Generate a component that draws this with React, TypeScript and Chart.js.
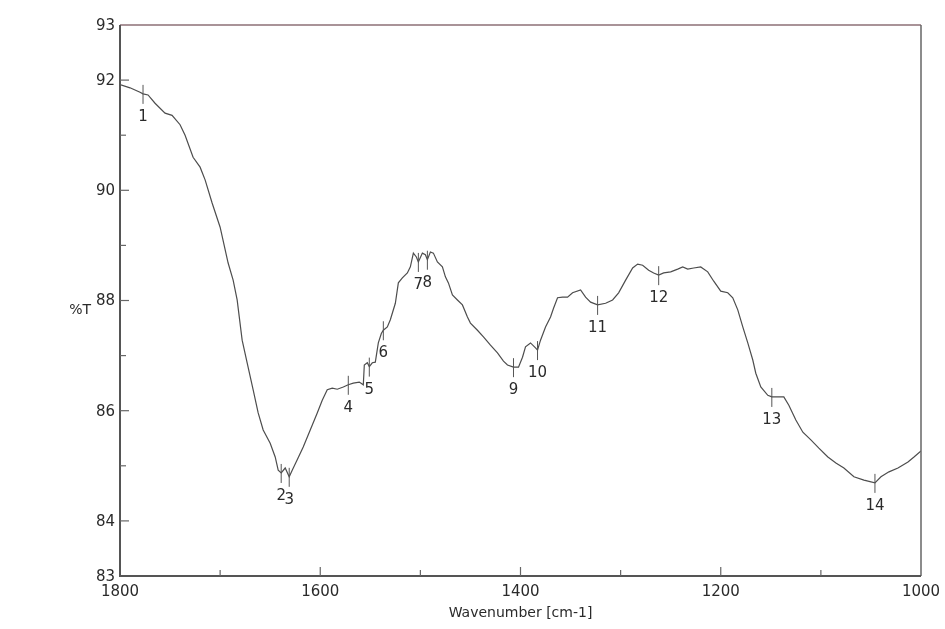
import React, { useEffect, useRef } from "react";
import { Chart, registerables } from "chart.js";

Chart.register(...registerables);

const wavenumbers = [
  1800, 1790, 1780, 1777, 1772, 1765, 1755, 1748, 1740, 1735, 1727, 1720, 1715, 1708, 1700,
  1692, 1687, 1683, 1678, 1673, 1667, 1662, 1657, 1650, 1645, 1642, 1639, 1635, 1631, 1628,
  1623, 1617, 1610, 1603, 1598, 1593, 1588, 1583, 1577, 1572, 1567, 1561, 1557, 1556, 1553,
  1551, 1548, 1545, 1542, 1539, 1537, 1533, 1530, 1525, 1522, 1518, 1513, 1510, 1507, 1504,
  1502, 1498, 1495, 1493, 1490, 1487, 1483, 1478, 1475, 1472, 1468, 1463, 1458, 1453, 1450,
  1443, 1437, 1430, 1423, 1417, 1413, 1407, 1402, 1398, 1395, 1390, 1385, 1383, 1380, 1375,
  1370, 1367, 1363, 1358, 1353, 1348, 1340, 1335, 1330, 1323, 1315, 1308, 1302, 1295, 1288,
  1283, 1278, 1272, 1267, 1262, 1257, 1250, 1243, 1238, 1233, 1227, 1220, 1213, 1207, 1200,
  1193, 1188, 1183, 1178, 1173, 1168, 1165, 1160, 1153, 1149, 1143, 1137, 1132, 1125, 1118,
  1110, 1102, 1093, 1085, 1077, 1067, 1057, 1046, 1040, 1032, 1023, 1013, 1007, 1000,
];

const transmittance = [
  91.92, 91.86, 91.78, 91.75, 91.73, 91.58, 91.4, 91.36, 91.19, 91.0, 90.6, 90.42, 90.19, 89.77, 89.33,
  88.68, 88.37, 88.01, 87.28, 86.87, 86.38, 85.96, 85.65, 85.41, 85.16, 84.92, 84.87, 84.96, 84.8, 84.92,
  85.11, 85.34, 85.65, 85.96, 86.19, 86.38, 86.41, 86.39, 86.43, 86.47, 86.5, 86.52, 86.47, 86.83, 86.87,
  86.8, 86.87, 86.88, 87.23, 87.4, 87.46, 87.52, 87.65, 87.95, 88.32, 88.41, 88.5, 88.61, 88.86, 88.79,
  88.7, 88.86, 88.83, 88.74, 88.88, 88.86, 88.7, 88.61, 88.43, 88.32, 88.1, 88.01, 87.92, 87.7, 87.59,
  87.46, 87.34, 87.19, 87.05, 86.9, 86.83, 86.79, 86.79, 86.97, 87.16, 87.23, 87.14, 87.1, 87.28, 87.52,
  87.7, 87.86, 88.05, 88.06, 88.06, 88.14, 88.19, 88.06, 87.97, 87.92, 87.95, 88.01, 88.14, 88.37, 88.59,
  88.66, 88.64, 88.55, 88.5, 88.46, 88.5, 88.52, 88.57, 88.61, 88.57, 88.59, 88.61, 88.52, 88.35, 88.17,
  88.14, 88.05, 87.83, 87.52, 87.23, 86.92, 86.68, 86.43, 86.28, 86.25, 86.25, 86.25, 86.1, 85.83, 85.61,
  85.47, 85.32, 85.16, 85.05, 84.96, 84.8, 84.74, 84.69, 84.8, 84.89, 84.96, 85.07, 85.16, 85.27,
];

const peakLabels = ["1", "2", "3", "4", "5", "6", "7", "8", "9", "10", "11", "12", "13", "14"];
const peakWavenumbers = [1777, 1639, 1631, 1572, 1551, 1537, 1502, 1493, 1407, 1383, 1323, 1262, 1149, 1046];

const yTickLabels = [93, 92, 90, 88, 86, 84, 83];
const yMajorTicks = [84, 86, 88, 90, 92];
const yMinorTicks = [85, 87, 89, 91];
const xTickLabels = [1800, 1600, 1400, 1200, 1000];
const xMajorTicks = [1600, 1400, 1200];
const xMinorTicks = [1700, 1500, 1300, 1100];

const xTitle = "Wavenumber [cm-1]";
const yTitle = "%T";

const FONT = "'DejaVu Sans', 'Liberation Sans', Arial, sans-serif";

const decorPlugin = {
  id: "irDecor",
  afterDatasetsDraw(chart: any) {
    const { ctx, chartArea } = chart;
    const { left, top, right, bottom } = chartArea;
    const xs = chart.scales.x;
    const ys = chart.scales.y;
    ctx.save();

    // frame
    ctx.lineWidth = 1.5;
    ctx.strokeStyle = "#8d6f76";
    ctx.beginPath();
    ctx.moveTo(left, top);
    ctx.lineTo(right, top);
    ctx.stroke();
    ctx.strokeStyle = "#666";
    ctx.beginPath();
    ctx.moveTo(right, top);
    ctx.lineTo(right, bottom);
    ctx.stroke();
    ctx.strokeStyle = "#555";
    ctx.lineWidth = 2;
    ctx.beginPath();
    ctx.moveTo(left, top);
    ctx.lineTo(left, bottom);
    ctx.lineTo(right, bottom);
    ctx.stroke();

    // y ticks (inward)
    ctx.lineWidth = 1.2;
    ctx.strokeStyle = "#666";
    yMajorTicks.forEach((v) => {
      const p = ys.getPixelForValue(v);
      ctx.beginPath();
      ctx.moveTo(left, p);
      ctx.lineTo(left + 9, p);
      ctx.stroke();
    });
    yMinorTicks.forEach((v) => {
      const p = ys.getPixelForValue(v);
      ctx.beginPath();
      ctx.moveTo(left, p);
      ctx.lineTo(left + 6, p);
      ctx.stroke();
    });
    // x ticks (inward)
    xMajorTicks.forEach((v) => {
      const p = xs.getPixelForValue(v);
      ctx.beginPath();
      ctx.moveTo(p, bottom);
      ctx.lineTo(p, bottom - 9);
      ctx.stroke();
    });
    xMinorTicks.forEach((v) => {
      const p = xs.getPixelForValue(v);
      ctx.beginPath();
      ctx.moveTo(p, bottom);
      ctx.lineTo(p, bottom - 6);
      ctx.stroke();
    });

    // tick labels
    ctx.fillStyle = "#2a2a2a";
    ctx.font = `15px ${FONT}`;
    ctx.textAlign = "right";
    ctx.textBaseline = "middle";
    yTickLabels.forEach((v) => {
      ctx.fillText(String(v), left - 5, ys.getPixelForValue(v) + 1);
    });
    ctx.textAlign = "center";
    ctx.textBaseline = "middle";
    xTickLabels.forEach((v) => {
      ctx.fillText(String(v), xs.getPixelForValue(v), bottom + 16);
    });

    // axis titles
    ctx.font = `14px ${FONT}`;
    ctx.fillText(xTitle, (left + right) / 2, bottom + 37);
    ctx.textAlign = "right";
    ctx.fillText(yTitle, left - 29, ys.getPixelForValue(88) + 10);

    // peak markers
    ctx.strokeStyle = "#555";
    ctx.lineWidth = 1;
    ctx.fillStyle = "#2a2a2a";
    ctx.font = `15px ${FONT}`;
    ctx.textAlign = "center";
    ctx.textBaseline = "middle";
    peakWavenumbers.forEach((wn, i) => {
      const idx = wavenumbers.indexOf(wn);
      const px = xs.getPixelForValue(wn);
      const py = ys.getPixelForValue(transmittance[idx]);
      ctx.beginPath();
      ctx.moveTo(px, py - 9);
      ctx.lineTo(px, py + 10);
      ctx.stroke();
      ctx.fillText(peakLabels[i], px, py + 23);
    });

    ctx.restore();
  },
};

export default function App() {
  const canvasRef = useRef<HTMLCanvasElement | null>(null);

  useEffect(() => {
    document.body.style.margin = "0";
    const canvas = canvasRef.current;
    if (!canvas) return;
    const points = wavenumbers.map((w, i) => ({ x: w, y: transmittance[i] }));
    const chart = new Chart(canvas, {
      type: "line",
      data: {
        datasets: [
          {
            data: points,
            borderColor: "#4d4d4d",
            borderWidth: 1.2,
            pointRadius: 0,
            tension: 0,
            fill: false,
          },
        ],
      },
      options: {
        responsive: false,
        animation: false,
        events: [],
        layout: { padding: { left: 120, top: 25, right: 24, bottom: 53 } },
        plugins: {
          legend: { display: false },
          tooltip: { enabled: false },
          title: { display: false },
        },
        scales: {
          x: { type: "linear", reverse: true, min: 1000, max: 1800, display: false },
          y: { type: "linear", min: 83, max: 93, display: false },
        },
      },
      plugins: [decorPlugin],
    });
    return () => chart.destroy();
  }, []);

  return (
    <div style={{ width: 945, height: 629, background: "#fff" }}>
      <canvas ref={canvasRef} width={945} height={629} style={{ display: "block" }} />
    </div>
  );
}
